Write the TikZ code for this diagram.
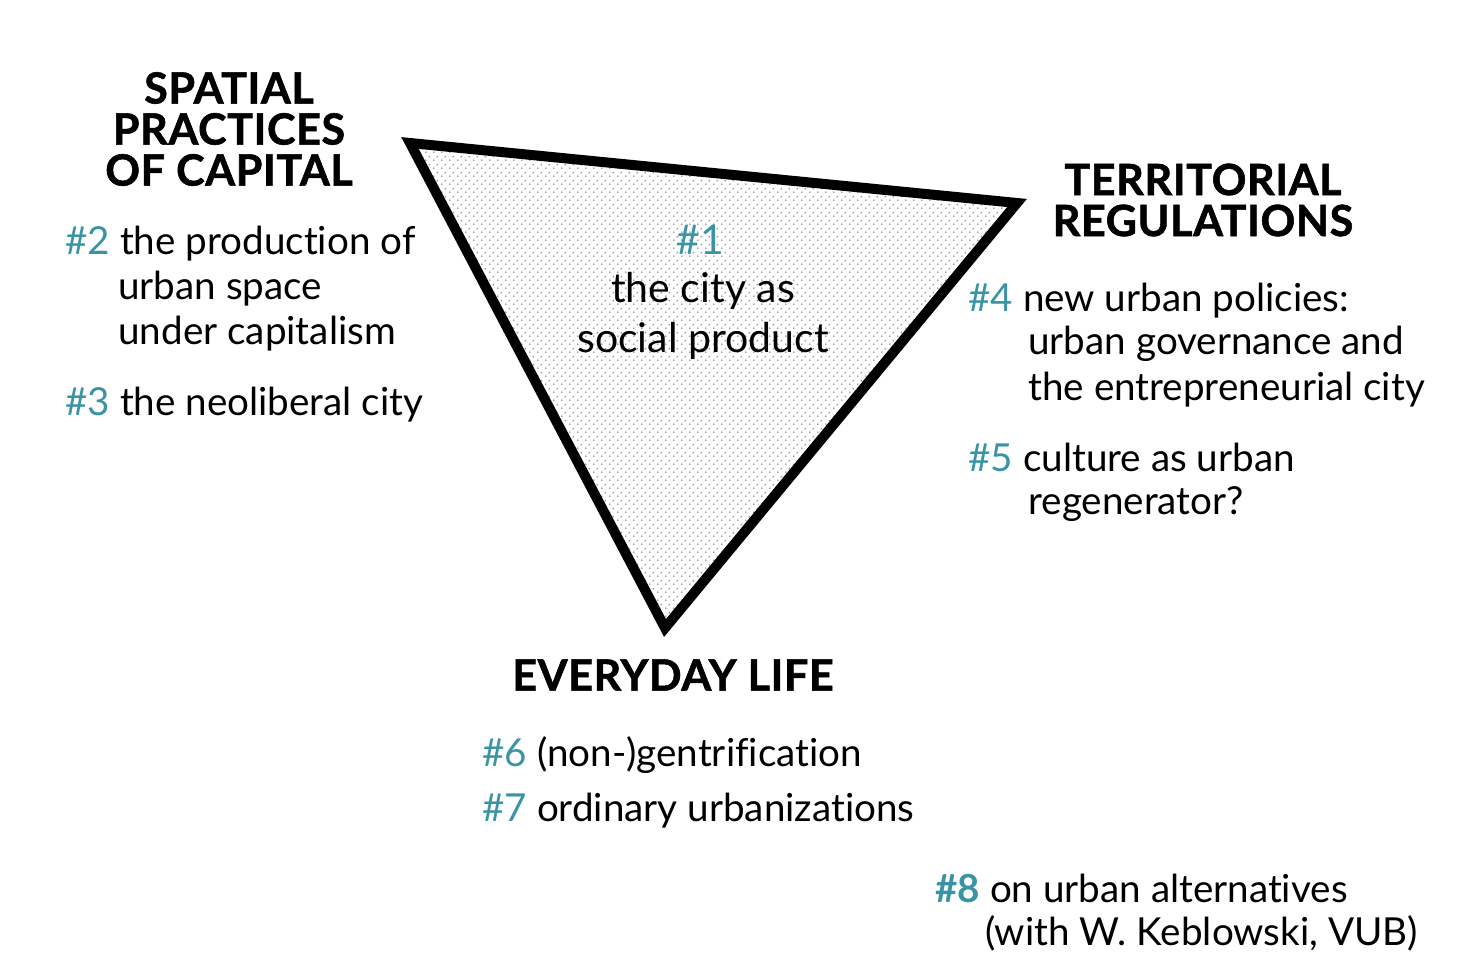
\documentclass[tikz,border=0pt]{standalone}
\usepackage{fontspec}
\setmainfont[Ligatures={NoCommon}]{Lato}
\newfontfamily\headfont[LetterSpace=1.5, BoldFeatures={FakeBold=1.3}]{Lato}
\usetikzlibrary{patterns}
\definecolor{teal}{RGB}{58,148,166}
\pgfdeclarepatternformonly{mydots}{\pgfpoint{0pt}{0pt}}{\pgfpoint{4pt}{4pt}}{\pgfpoint{4pt}{4pt}}{%
  \pgfpathcircle{\pgfpoint{1pt}{1pt}}{0.55pt}%
  \pgfpathcircle{\pgfpoint{3pt}{3pt}}{0.55pt}%
  \pgfusepath{fill}}
\tikzset{
  head/.style={font=\headfont\bfseries\fontsize{21.5}{20.5}\selectfont, align=center, inner sep=0pt},
  body/.style={font=\fontsize{19.3}{22.5}\selectfont, anchor=base west, inner sep=0pt},
  mid/.style={font=\fontsize{20.5}{22.5}\selectfont, anchor=base, inner sep=0pt},
}
\begin{document}
\begin{tikzpicture}[x=0.5pt,y=-0.5pt]
\useasboundingbox (0,0) rectangle (1464,978);
\coordinate (A) at (410,143);
\coordinate (B) at (1017,203);
\coordinate (C) at (665,628);
\fill[pattern=mydots, pattern color=black!40] (A) -- (B) -- (C) -- cycle;
\draw[line width=5pt, line join=miter] (A) -- (B) -- (C) -- cycle;

% headings
\node[head] (sp) at (229,129) {SPATIAL\\PRACTICES\\OF CAPITAL};
\node[head] (tr) at (1203,200) {TERRITORIAL\\REGULATIONS};
\node[head] (ev) at (673,675) {EVERYDAY LIFE};

% centre
\node[mid, text=teal] (n1) at (700,255) {\#1};
\node[mid] (n1a) at (703,303) {the city as};
\node[mid] (n1b) at (703,353) {social product};

% left
\node[body] (n2) at (65,255) {\textcolor{teal}{\#2} the production of};
\node[body] (n2b) at (118,300) {urban space};
\node[body] (n2c) at (118,345) {under capitalism};
\node[body] (n3) at (65,416) {\textcolor{teal}{\#3} the neoliberal city};

% right
\node[body] (n4) at (968,312) {\textcolor{teal}{\#4} new urban policies:};
\node[body] (n4b) at (1028,355) {urban governance and};
\node[body] (n4c) at (1028,401) {the entrepreneurial city};
\node[body] (n5) at (968,472) {\textcolor{teal}{\#5} culture as urban};
\node[body] (n5b) at (1028,515) {regenerator?};

% bottom
\node[body] (n6) at (482,767) {\textcolor{teal}{\#6} (non-)gentrification};
\node[body] (n7) at (482,822) {\textcolor{teal}{\#7} ordinary urbanizations};
\node[body] (n8) at (935,902) {\textcolor{teal}{\bfseries\#8} on urban alternatives};
\node[body] (n8b) at (985,945) {(with W. Keblowski, VUB)};
\end{tikzpicture}
\end{document}
